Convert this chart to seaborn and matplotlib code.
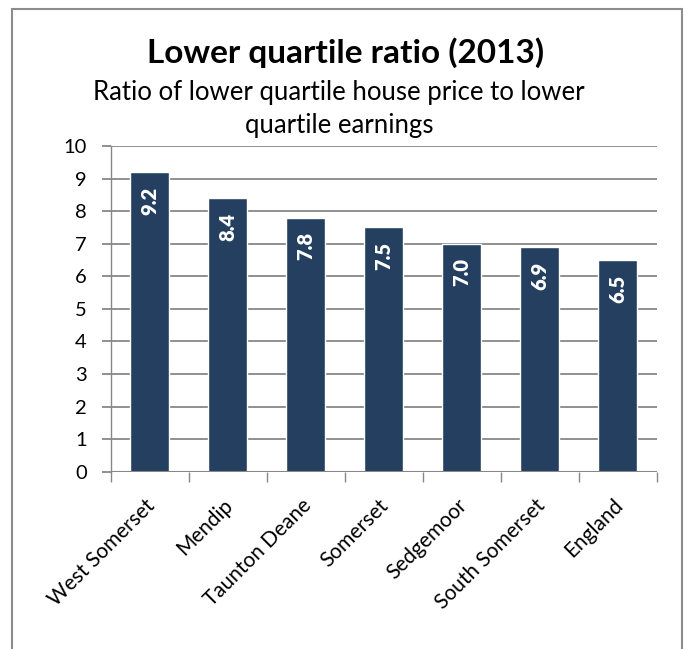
import matplotlib
matplotlib.use("Agg")
import matplotlib.pyplot as plt
import matplotlib.transforms as mtransforms
import seaborn as sns
import pandas as pd
from matplotlib.patches import Rectangle

categories = ["West Somerset", "Mendip", "Taunton Deane", "Somerset",
              "Sedgemoor", "South Somerset", "England"]
values = [9.2, 8.4, 7.8, 7.5, 7.0, 6.9, 6.5]
value_labels = ["9.2", "8.4", "7.8", "7.5", "7.0", "6.9", "6.5"]
y_ticks = [0, 1, 2, 3, 4, 5, 6, 7, 8, 9, 10]

title = "Lower quartile ratio (2013)"
subtitle_lines = ["Ratio of lower quartile house price to lower",
                  "quartile earnings"]

sns.set_theme(style="white")
plt.rcParams['font.family'] = ['Lato', 'DejaVu Sans']

df = pd.DataFrame({"area": categories, "ratio": values})

W, H = 689, 649
fig = plt.figure(figsize=(W / 100, H / 100), dpi=100)
ax = fig.add_axes([110.7 / W, 1 - 471.7 / H, (656.7 - 110.7) / W, (471.7 - 146) / H])

sns.barplot(data=df, x="area", y="ratio", color="#253F60", saturation=1,
            width=0.5, ax=ax, zorder=3)

grid_c = "#878787"
ax.set_ylim(0, 10)
ax.set_yticks(y_ticks)
ax.set_xlim(-0.5, len(categories) - 0.5)
ax.yaxis.grid(True, color=grid_c, linewidth=1.3, zorder=0)
ax.set_axisbelow(True)
ax.set_xlabel("")
ax.set_ylabel("")

for s in ["top", "right", "bottom"]:
    ax.spines[s].set_visible(False)
ax.spines["left"].set_color(grid_c)
ax.spines["left"].set_linewidth(1.0)
ax.axhline(0, color=grid_c, linewidth=1.5, zorder=4)

ax.tick_params(axis="y", which="major", length=6.3, color=grid_c, width=1.3,
               labelsize=14.5, pad=11, left=True)
ax.tick_params(axis="x", which="major", length=0, labelsize=15, pad=17)
ax.set_xticks(range(len(categories)))
ax.set_xticklabels(categories, rotation=45, ha="right", va="top",
                   rotation_mode="anchor")
shift = mtransforms.ScaledTranslation(-5 / 100, 0, fig.dpi_scale_trans)
for lbl in ax.get_xticklabels():
    lbl.set_transform(lbl.get_transform() + shift)
for lbl in ax.get_yticklabels() + ax.get_xticklabels():
    lbl.set_color("black")

# minor ticks at category boundaries
ax.set_xticks([i + 0.5 for i in range(-1, len(categories))], minor=True)
ax.tick_params(axis="x", which="minor", length=7.5, color=grid_c, width=1,
               bottom=True, direction="out")

for p, lab in zip(ax.patches, value_labels):
    ax.annotate(lab, xy=(p.get_x() + p.get_width() / 2, p.get_height()),
                xytext=(0, -10.5), textcoords="offset points",
                rotation=90, ha="center", va="top", color="white",
                fontsize=14.5, fontweight="heavy", zorder=5)

fig.text(0.502, 1 - 62.7 / H, title, ha="center", va="baseline", fontsize=24,
         fontweight="bold", color="black")
fig.text(0.492, 1 - 100 / H, subtitle_lines[0], ha="center", va="baseline",
         fontsize=18.5, color="black")
fig.text(0.492, 1 - 133.3 / H, subtitle_lines[1], ha="center", va="baseline",
         fontsize=18.5, color="black")

fig.patches.append(Rectangle((12 / W, -0.05), (681.7 - 12) / W, 1.05 - 8.8 / H,
                             transform=fig.transFigure, fill=False,
                             edgecolor="#8c8c8c", linewidth=1.5))

fig.savefig("out.png", dpi=100)
